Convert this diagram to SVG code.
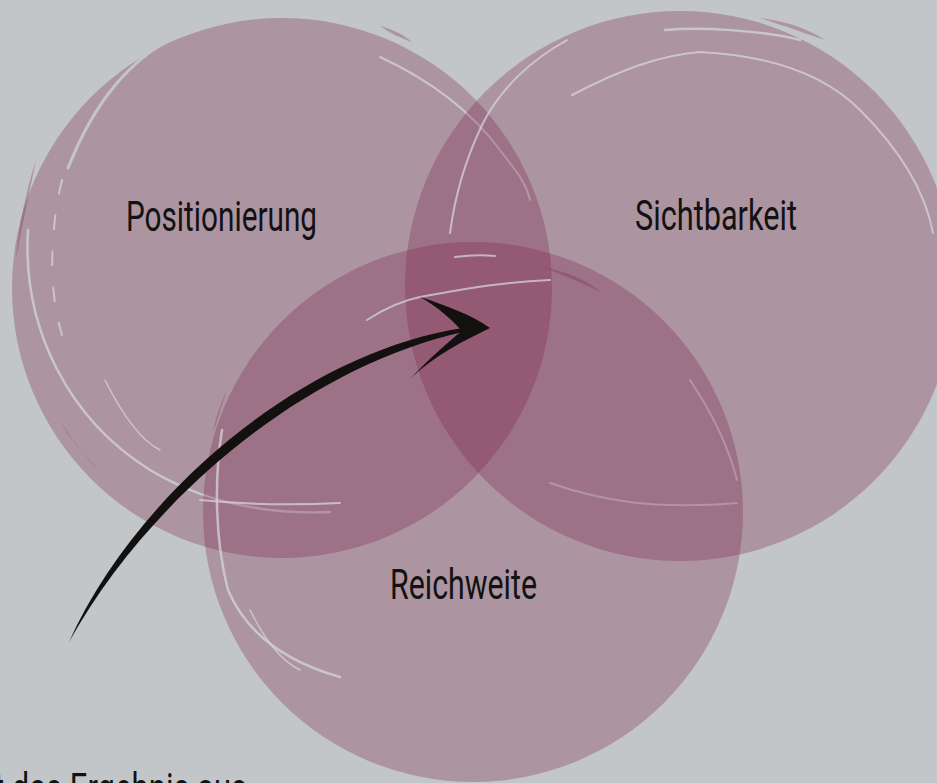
<svg xmlns="http://www.w3.org/2000/svg" width="937" height="783" viewBox="0 0 937 783">
<style>
.blob{fill:#7f284b;fill-opacity:0.31}
.streak{fill:none;stroke:#d4d6d9;stroke-opacity:0.75;stroke-linecap:round}
.gap{fill:none;stroke:#c3c6c9;stroke-linecap:round}
.lbl{font-family:Roboto,"Liberation Sans",sans-serif;font-size:43px;fill:#121212}
.arrow{fill:#121110}
</style>
<rect width="937" height="783" fill="#c3c6c9"/>

<g id="node-positionierung">
<circle class="blob" cx="282" cy="288" r="270"/>
<path class="blob" d="M36,160 C26,190 18,230 16,260 C22,225 30,190 36,160 Z"/>
<path class="blob" d="M380,26 C395,30 405,36 412,42 C400,38 390,33 380,26 Z"/>
<path class="blob" d="M60,420 C75,445 90,462 100,472 C85,455 70,440 60,420 Z"/>
<path class="streak" stroke-width="2.5" d="M28,230 C22,330 70,420 150,470 C200,500 260,515 330,512"/>
<path class="gap" stroke-width="3" d="M176,36 C130,60 95,100 68,168"/>
<path class="streak" stroke-width="2" stroke-dasharray="14 22" d="M62,180 C50,230 48,290 62,335"/>
<path class="streak" stroke-width="2" d="M380,57 C430,80 470,110 500,150 C515,170 525,180 530,200"/>
<path class="streak" stroke-width="1.5" d="M105,380 C120,410 140,440 160,450"/>
</g>

<g id="node-sichtbarkeit">
<circle class="blob" cx="680" cy="286" r="275"/>
<path class="blob" d="M570,37 C550,50 532,62 520,73 C535,58 552,46 570,37 Z"/>
<path class="blob" d="M760,18 C790,22 810,30 825,40 C805,33 785,26 760,18 Z"/>
<path class="streak" stroke-width="2" d="M572,95 C620,70 660,55 700,52 C760,55 820,70 860,110 C900,150 925,190 933,233"/>
<path class="streak" stroke-width="2.5" d="M665,30 C700,27 760,30 800,40"/>
<path class="streak" stroke-width="2" d="M567,40 C530,60 500,90 483,123 C465,160 455,195 450,233"/>
<path class="streak" stroke-width="2" d="M550,483 C600,500 650,510 737,503"/>
<path class="streak" stroke-width="2" d="M690,380 C710,410 728,445 737,480"/>
</g>

<g id="node-reichweite">
<circle class="blob" cx="473" cy="512" r="270"/>
<path class="blob" d="M227,390 C220,405 215,420 213,433 C218,418 222,404 227,390 Z"/>
<path class="blob" d="M545,268 C570,272 590,282 600,292 C585,284 565,276 545,268 Z"/>
<path class="streak" stroke-width="2" d="M367,320 C390,305 405,300 420,297 C460,290 500,282 550,280"/>
<path class="streak" stroke-width="2" d="M455,257 C470,255 485,255 495,256"/>
<path class="streak" stroke-width="2.5" d="M222,430 C214,480 215,540 228,590 C245,630 280,660 340,677"/>
<path class="streak" stroke-width="2" d="M200,500 C250,505 300,505 340,503"/>
<path class="streak" stroke-width="1.5" d="M250,610 C265,640 280,660 300,670"/>
</g>

<g id="connectors">
<path class="arrow" d="M69,642 C134,497 299,353 463,328 L463,332 C301,368 146,503 69,642 Z"/>
<path class="arrow" d="M420,297 C445,305 472,315 490,328 C465,340 435,355 411,378 C430,358 448,342 462,331 C450,318 438,307 420,297 Z"/>
</g>

<g id="labels">
<text class="lbl" x="126" y="231" textLength="191" lengthAdjust="spacingAndGlyphs">Positionierung</text>
<text class="lbl" x="635" y="230" textLength="162" lengthAdjust="spacingAndGlyphs">Sichtbarkeit</text>
<text class="lbl" x="390" y="599" textLength="147" lengthAdjust="spacingAndGlyphs">Reichweite</text>
<text class="lbl" x="-6" y="803" textLength="253" lengthAdjust="spacingAndGlyphs">t das Ergebnis aus</text>
</g>
</svg>
